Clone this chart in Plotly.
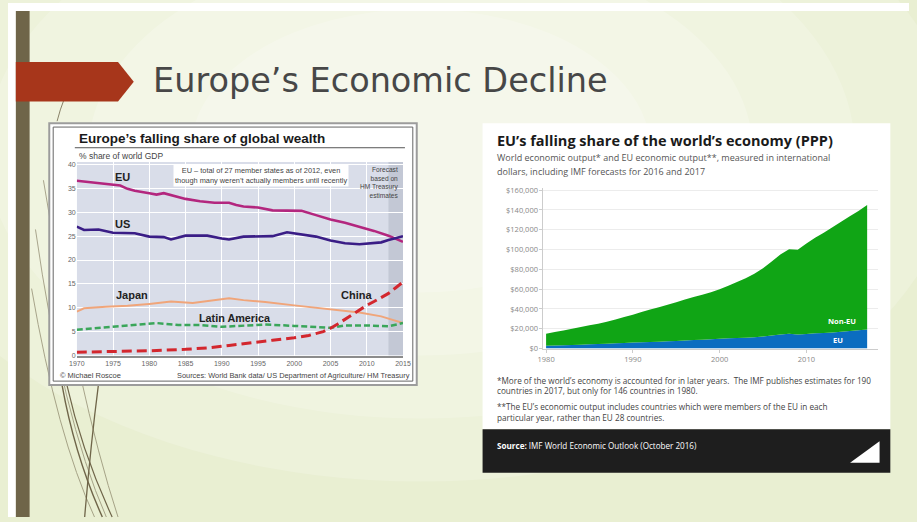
import plotly.graph_objects as go

W, H = 917, 522

# ─── Left chart: Europe's falling share of global wealth (% of world GDP) ───
eu_years = [1970, 1972, 1974, 1976, 1977, 1978, 1980, 1981, 1982, 1983, 1985, 1987, 1989,
            1991, 1992, 1993, 1995, 1997, 1999, 2001, 2003, 2005, 2007, 2009, 2011, 2013, 2015]
eu_share = [36.6, 36.3, 36.0, 35.6, 34.9, 34.5, 34.0, 33.7, 34.0, 33.6, 32.8, 32.3, 32.0,
            32.0, 31.5, 31.2, 31.0, 30.4, 30.3, 30.3, 29.4, 28.5, 27.8, 27.0, 26.1, 25.1, 23.8]

us_years = [1970, 1971, 1973, 1975, 1978, 1980, 1982, 1983, 1985, 1988, 1990, 1991, 1993,
            1997, 1999, 2001, 2003, 2005, 2007, 2009, 2011, 2012, 2013, 2014, 2015]
us_share = [27.0, 26.3, 26.4, 25.7, 25.6, 24.9, 24.8, 24.3, 25.1, 25.1, 24.5, 24.3, 24.9,
            25.0, 25.8, 25.4, 24.9, 24.1, 23.5, 23.3, 23.5, 23.7, 24.2, 24.6, 25.0]

japan_years = [1970, 1971, 1974, 1977, 1980, 1983, 1986, 1989, 1991, 1993, 1996, 2000,
               2003, 2006, 2009, 2012, 2015]
japan_share = [9.2, 9.9, 10.2, 10.4, 10.8, 11.3, 11.0, 11.6, 12.0, 11.6, 11.2, 10.5,
               10.0, 9.5, 9.0, 8.2, 6.8]

latam_years = [1970, 1975, 1978, 1981, 1984, 1987, 1990, 1993, 1996, 2000, 2003, 2005,
               2007, 2010, 2013, 2015]
latam_share = [5.4, 6.0, 6.4, 6.8, 6.4, 6.4, 6.0, 6.3, 6.5, 6.2, 5.9, 5.8,
               6.3, 6.3, 6.1, 6.8]

china_years = [1970, 1975, 1980, 1985, 1988, 1991, 1994, 1997, 2000, 2002, 2004, 2005,
               2006, 2007, 2008, 2009, 2010, 2011, 2012, 2013, 2014, 2015]
china_share = [0.7, 0.8, 1.0, 1.3, 1.6, 2.1, 2.7, 3.2, 3.7, 4.2, 5.0, 5.7,
               6.6, 7.6, 8.6, 9.6, 10.5, 11.3, 12.1, 13.0, 14.2, 15.4]

left_xticks = [1970, 1975, 1980, 1985, 1990, 1995, 2000, 2005, 2010, 2015]
left_yticks = [0, 5, 10, 15, 20, 25, 30, 35, 40]

# ─── Right chart: world vs EU economic output (PPP) ─────────────────────────
ppp_years = list(range(1980, 2018))
world_output = [15000, 16700, 18400, 20100, 21800, 23500, 25200, 27000, 29300, 31800,
                34300, 36900, 39500, 41800, 44300, 46900, 49500, 52100, 54500, 56800,
                60000, 63500, 67200, 71000, 75500, 81000, 88000, 95000, 100200, 99800,
                106000, 112000, 117000, 122500, 128000, 133500, 139000, 145000]
eu_output = [3000, 3200, 3400, 3700, 4000, 4300, 4600, 5000, 5400, 5800,
             6200, 6500, 6800, 7000, 7400, 7800, 8200, 8600, 9000, 9400,
             10000, 10400, 10700, 11000, 11600, 12300, 13200, 14200, 15000, 14300,
             14800, 15400, 15700, 16200, 17000, 17800, 18600, 19400]

right_xticks = [1980, 1990, 2000, 2010]
right_yticks = [0, 20000, 40000, 60000, 80000, 100000, 120000, 140000, 160000]
right_yticktext = ["$0", "$20,000", "$40,000", "$60,000", "$80,000",
                   "$100,000", "$120,000", "$140,000", "$160,000"]


def fx(px):
    return px / W


def fy(py):
    return 1 - py / H


def path(points, close=False):
    s = "M " + " L ".join(f"{fx(x):.4f},{fy(y):.4f}" for x, y in points)
    return s + (" Z" if close else "")


def curve(p0, c, p1):
    return (f"M {fx(p0[0]):.4f},{fy(p0[1]):.4f} Q {fx(c[0]):.4f},{fy(c[1]):.4f} "
            f"{fx(p1[0]):.4f},{fy(p1[1]):.4f}")


def prect(x0, y0, x1, y1, fill, line=None, lw=0):
    return dict(type="rect", xref="paper", yref="paper", layer="below",
                x0=fx(x0), x1=fx(x1), y0=fy(y1), y1=fy(y0),
                fillcolor=fill, line=dict(color=line or fill, width=lw))


fig = go.Figure()

# left chart lines
fig.add_trace(go.Scatter(x=eu_years, y=eu_share, mode="lines", name="EU",
                         line=dict(color="#b3267e", width=2.6), xaxis="x", yaxis="y"))
fig.add_trace(go.Scatter(x=us_years, y=us_share, mode="lines", name="US",
                         line=dict(color="#3a1d86", width=2.6), xaxis="x", yaxis="y"))
fig.add_trace(go.Scatter(x=japan_years, y=japan_share, mode="lines", name="Japan",
                         line=dict(color="#f0a57a", width=2), xaxis="x", yaxis="y"))
fig.add_trace(go.Scatter(x=latam_years, y=latam_share, mode="lines", name="Latin America",
                         line=dict(color="#3aa65a", width=2.5, dash="6px,3px"),
                         xaxis="x", yaxis="y"))
fig.add_trace(go.Scatter(x=china_years, y=china_share, mode="lines", name="China",
                         line=dict(color="#d3272e", width=3, dash="10px,5px"),
                         xaxis="x", yaxis="y"))

# right chart areas
fig.add_trace(go.Scatter(x=ppp_years, y=eu_output, mode="none", name="EU",
                         fill="tozeroy", fillcolor="#0b6dc0", xaxis="x2", yaxis="y2"))
fig.add_trace(go.Scatter(x=ppp_years, y=world_output, mode="none", name="Non-EU",
                         fill="tonexty", fillcolor="#10a515", xaxis="x2", yaxis="y2"))

# ─── Slide decoration ───────────────────────────────────────────────────────
shapes = [
    prect(0, 0, W, 8, "#ffffff"),
    prect(0, 0, 8, H, "#ffffff"),
]
for r, op in [(420, 0.18), (340, 0.18), (260, 0.2), (180, 0.2)]:
    shapes.append(dict(type="circle", xref="paper", yref="paper", layer="below",
                       x0=fx(420 - r * 1.3), x1=fx(420 + r * 1.3),
                       y0=fy(150 + r * 0.8), y1=fy(150 - r * 0.8),
                       fillcolor="#ffffff", opacity=op, line=dict(width=0)))
shapes.append(prect(8, 8, 22, H, "#6f6549"))
# faint long strokes behind the left chart
for p0, c, p1 in [((28, 230), (55, 420), (100, 522)),
                  ((24, 290), (50, 440), (88, 522)),
                  ((36, 180), (72, 400), (112, 522))]:
    shapes.append(dict(type="path", xref="paper", yref="paper", layer="below",
                       path=curve(p0, c, p1), opacity=0.55,
                       line=dict(color="#6f6549", width=1)))
# darker strokes below the chart
for p0, c, p1, w in [((55, 388), (68, 460), (96, 522), 1.4),
                     ((60, 388), (75, 455), (106, 522), 1.2),
                     ((92, 388), (84, 450), (78, 522), 1.3),
                     ((50, 120), (53, 108), (57, 98), 0.8)]:
    shapes.append(dict(type="path", xref="paper", yref="paper", layer="below",
                       path=curve(p0, c, p1), line=dict(color="#6f6549", width=w)))
shapes.append(dict(type="path", xref="paper", yref="paper", layer="below",
                   path=path([(8, 60), (112, 60), (128, 80), (112, 100), (8, 100)], close=True),
                   fillcolor="#a7361b", line=dict(width=0)))

# left chart frame + plot background
shapes += [
    prect(42, 122, 416, 388, "#ffffff", "#9c9c9c", 2),
    dict(type="rect", xref="paper", yref="paper", layer="below",
         x0=fx(46), x1=fx(412), y0=fy(384), y1=fy(126),
         line=dict(color="#666666", width=1)),
    dict(type="rect", xref="x", yref="y", layer="below",
         x0=1970, x1=2015, y0=0, y1=40.5, fillcolor="#d9dde9", line=dict(width=0)),
    dict(type="rect", xref="x", yref="y", layer="below",
         x0=2013, x1=2015, y0=0, y1=40.5, fillcolor="#c3c8d5", line=dict(width=0)),
    dict(type="line", xref="paper", yref="paper",
         x0=fx(68), x1=fx(404), y0=fy(147), y1=fy(147), line=dict(color="#555555", width=1)),
]

# right chart panel
shapes += [
    prect(483, 122, 898, 433, "#ffffff"),
    prect(483, 433, 898, 477, "#1e1e1e"),
    dict(type="path", xref="paper", yref="paper",
         path=path([(857, 467), (887, 467), (887, 445)], close=True),
         fillcolor="#ffffff", line=dict(width=0)),
]

LF = "Liberation Sans, Arial, sans-serif"
RF = "Open Sans, sans-serif"


def note(x, y, text, size, color="#333333", family=RF, xanchor="left", **kw):
    return dict(xref="paper", yref="paper", x=fx(x), y=fy(y), text=text, showarrow=False,
                xanchor=xanchor, yanchor="middle", align=xanchor if xanchor != "center" else "center",
                font=dict(size=size, color=color, family=family), **kw)


annotations = [
    note(146, 79, "Europe’s Economic Decline", 33.5, "#474747", "DejaVu Sans, sans-serif"),
    # left chart texts
    note(70, 138, "<b>Europe’s falling share of global wealth</b>", 13.5, "#1a1a1a", LF),
    note(70, 155, "% share of world GDP", 8.5, "#444444", LF),
    note(258, 175.5, "EU – total of 27 member states as of 2012, even<br>"
         "though many weren’t actually members until recently", 7.4, "#444444", LF,
         xanchor="center", bgcolor="#ffffff", borderpad=1),
    note(399, 182, "Forecast<br>based on<br>HM Treasury<br>estimates", 6.6, "#444444", LF,
         xanchor="right"),
    note(117, 177, "<b>EU</b>", 11, "#222222", LF, xanchor="center"),
    note(117, 224, "<b>US</b>", 11, "#222222", LF, xanchor="center"),
    note(126, 297, "<b>Japan</b>", 11, "#222222", LF, xanchor="center"),
    note(231, 320, "<b>Latin America</b>", 10.8, "#222222", LF, xanchor="center"),
    note(355, 297, "<b>China</b>", 11, "#222222", LF, xanchor="center"),
    note(51, 378, "© Michael Roscoe", 7.5, "#444444", LF),
    note(411, 378, "Sources: World Bank data/ US Department of Agriculture/ HM Treasury",
         7.4, "#444444", LF, xanchor="right"),
    # right chart texts
    note(496, 140, "<b>EU’s falling share of the world’s economy (PPP)</b>", 14.5, "#1a1a1a"),
    note(496, 157, "World economic output* and EU economic output**, measured in international",
         9, "#555555"),
    note(496, 171, "dollars, including IMF forecasts for 2016 and 2017", 9, "#555555"),
    note(849, 323, "<b>Non-EU</b>", 7.5, "#ffffff", xanchor="center"),
    note(845, 342, "<b>EU</b>", 7.5, "#ffffff", xanchor="center"),
    note(496, 383, "*More of the world’s economy is accounted for in later years.  "
         "The IMF publishes estimates for 190", 8.2, "#444444"),
    note(496, 394, "countries in 2017, but only for 146 countries in 1980.", 8.2, "#444444"),
    note(496, 410, "**The EU’s economic output includes countries which were members of the EU in each",
         8.2, "#444444"),
    note(496, 421, "particular year, rather than EU 28 countries.", 8.2, "#444444"),
    note(496, 449, "<b>Source:</b> IMF World Economic Outlook (October 2016)", 8.1, "#ffffff"),
]

fig.update_layout(
    width=W, height=H, autosize=False,
    margin=dict(l=0, r=0, t=0, b=0),
    paper_bgcolor="#e9efd2",
    plot_bgcolor="rgba(0,0,0,0)",
    showlegend=False,
    hovermode=False,
    shapes=shapes,
    annotations=annotations,
    xaxis=dict(domain=[fx(70), fx(402)], range=[1970, 2015], anchor="y",
               tickvals=left_xticks, showgrid=True, gridcolor="#ffffff", gridwidth=1,
               zeroline=False, showline=True, linecolor="#8c8c8c", linewidth=1.5,
               ticks="", tickfont=dict(size=7, color="#666666", family=LF)),
    yaxis=dict(domain=[fy(358), fy(161.6)], range=[0, 40.5], anchor="x",
               tickvals=left_yticks, showgrid=True, gridcolor="#ffffff", gridwidth=1,
               zeroline=False, ticks="", tickfont=dict(size=7, color="#666666", family=LF)),
    xaxis2=dict(domain=[fx(545), fx(885)], range=[1979.7, 2018.2], anchor="y2",
                tickvals=right_xticks, showgrid=False, zeroline=False,
                showline=True, linecolor="#cccccc", ticks="outside", ticklen=3,
                tickcolor="#cccccc", tickfont=dict(size=7.5, color="#888888", family=RF)),
    yaxis2=dict(domain=[fy(351), fy(188)], range=[0, 162000], anchor="x2",
                tickvals=right_yticks, ticktext=right_yticktext,
                showgrid=True, gridcolor="#ececec", zeroline=False,
                showline=True, linecolor="#cccccc", ticks="outside", ticklen=3,
                tickcolor="#cccccc", tickfont=dict(size=7.5, color="#888888", family=RF)),
)

fig.write_html("out.html", config={"displayModeBar": False},
               post_script="document.body.style.margin='0';document.body.style.overflow='hidden';")
